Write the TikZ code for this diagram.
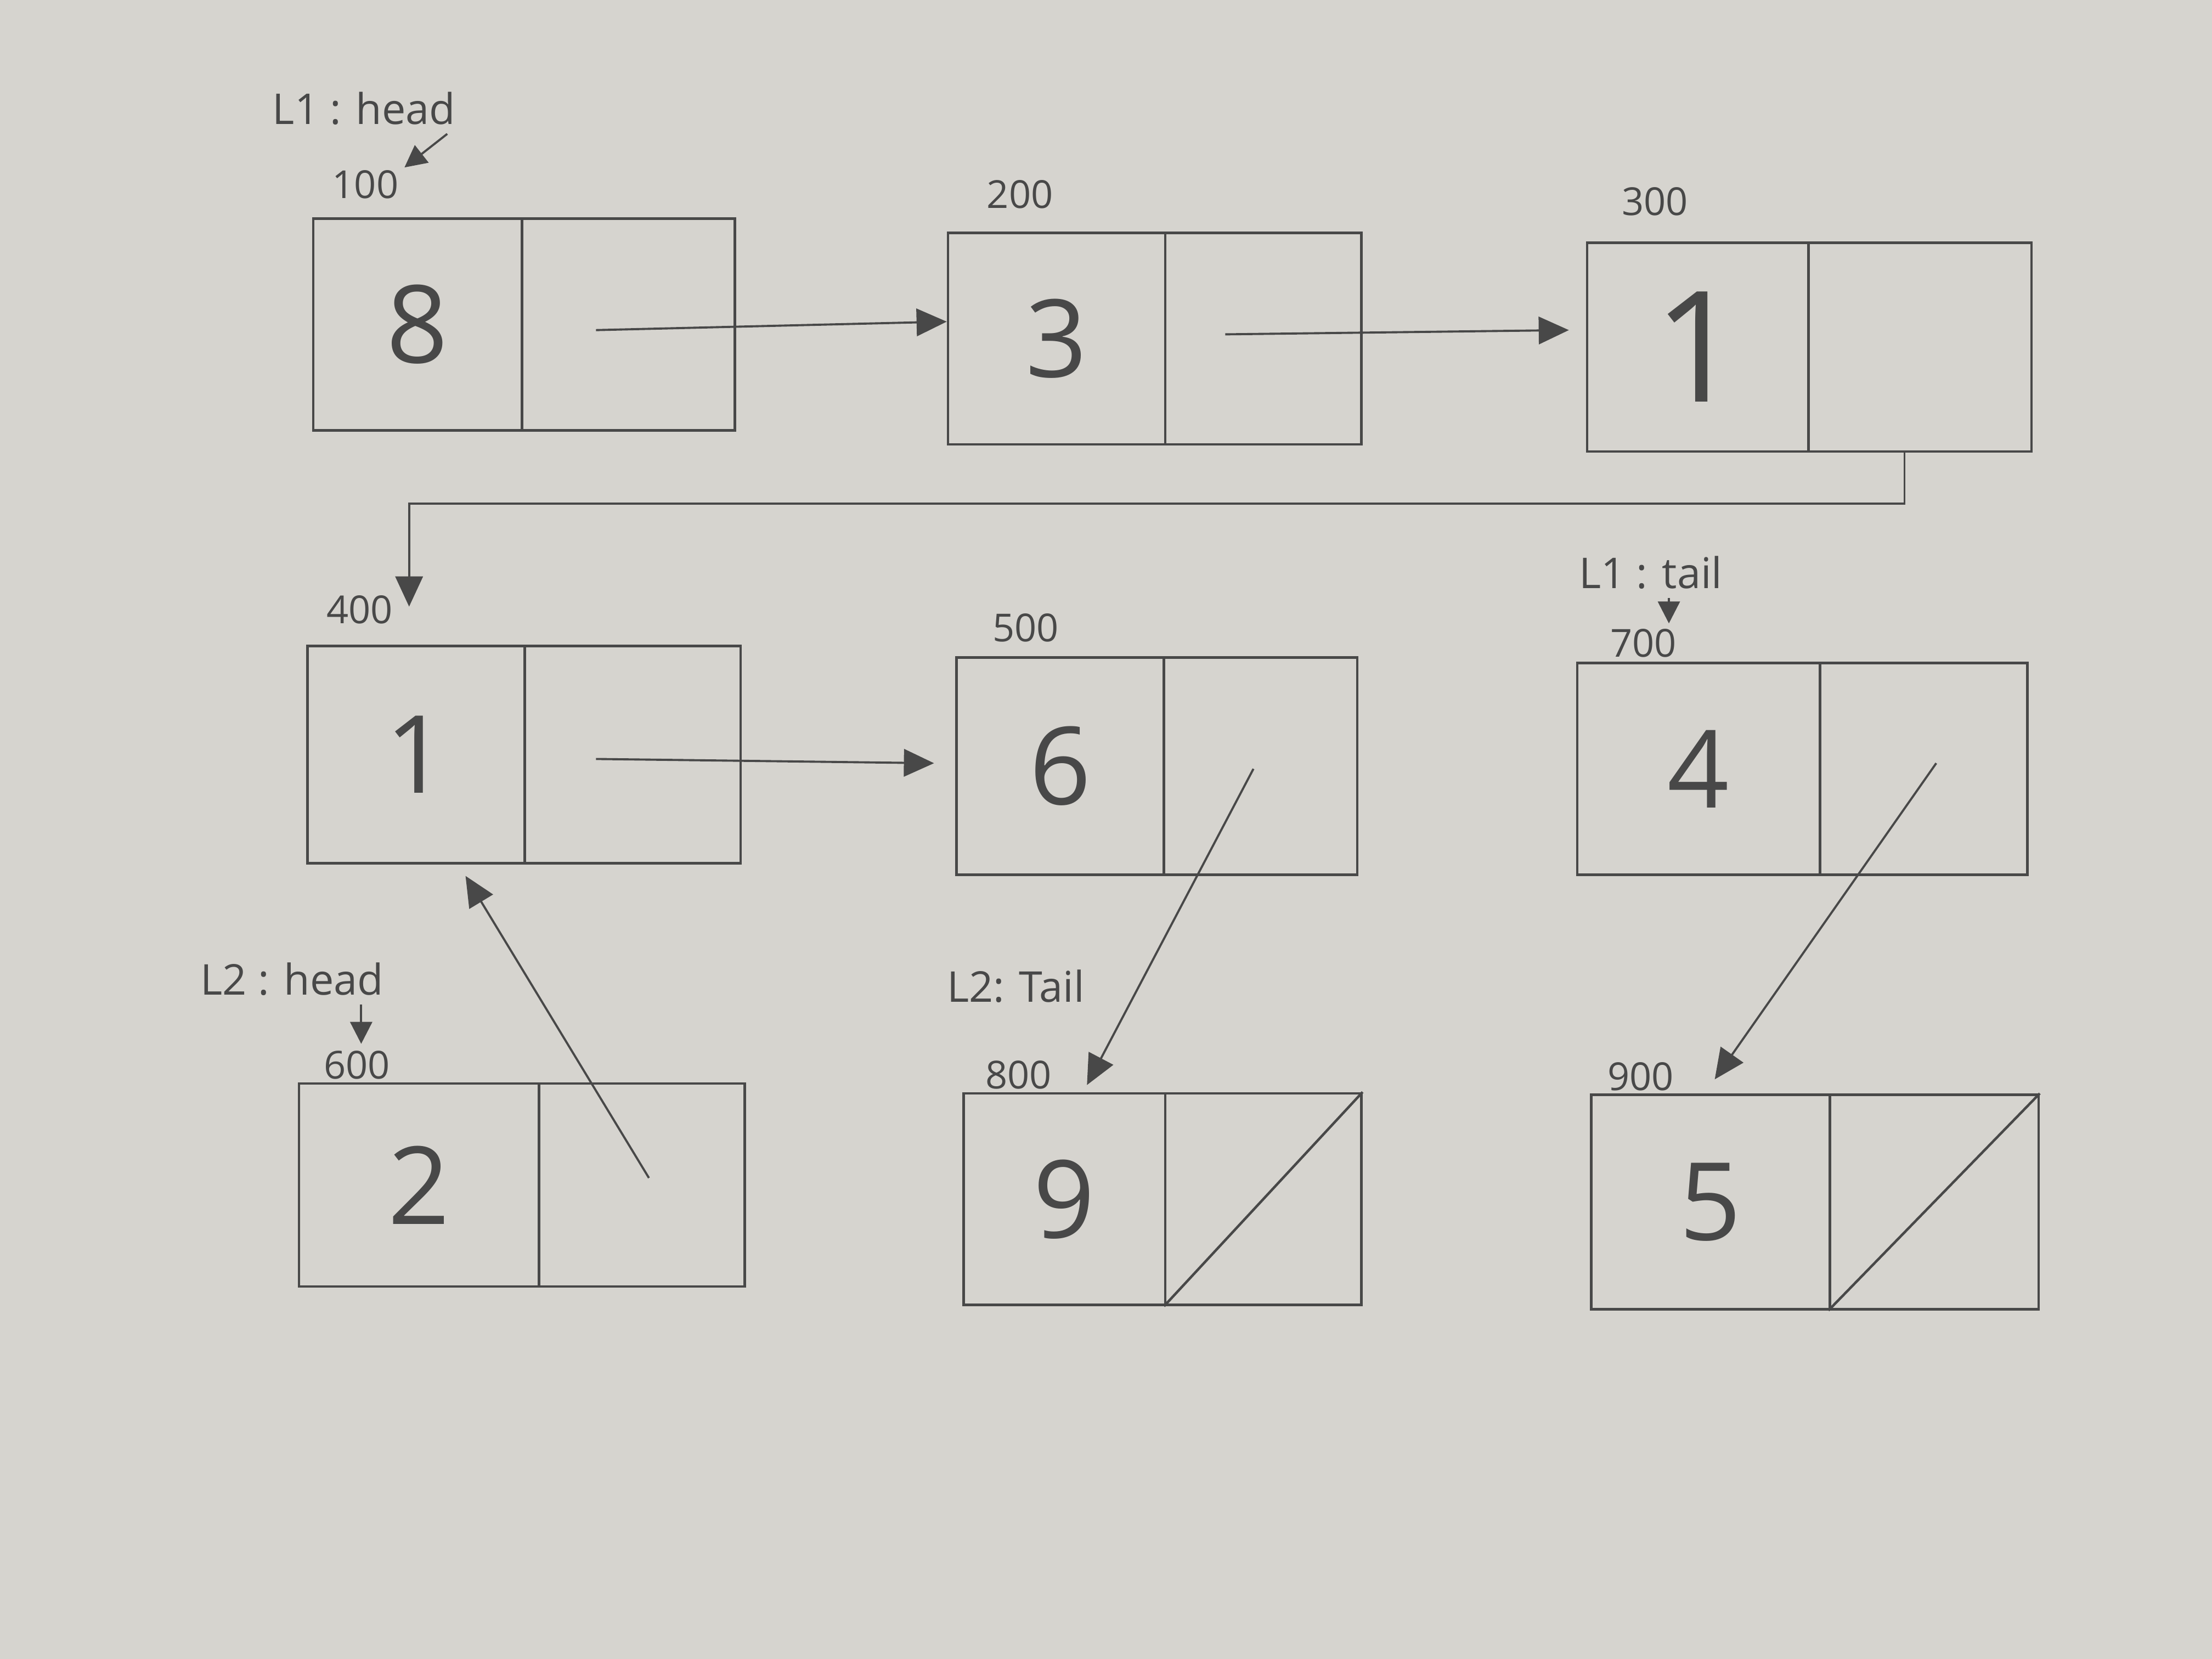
\documentclass[tikz,border=0pt]{standalone}
\usepackage{fontspec}
\setmainfont{Open Sans}
\usetikzlibrary{arrows.meta,calc}
\definecolor{paper}{RGB}{214,212,207}
\definecolor{pencil}{RGB}{72,72,72}
\begin{document}
\begin{tikzpicture}[x=0.025714cm,y=-0.025714cm,
  cell/.style={draw=pencil,line width=1.3pt,inner sep=0pt,text=pencil,font=\fontsize{56}{56}\selectfont},
  ptr/.style={draw=pencil,line width=1.1pt,-{Triangle[length=0.55cm,width=0.5cm]}},
  tag/.style={text=pencil,font=\fontsize{22}{22}\selectfont,inner sep=0pt},
  addr/.style={text=pencil,font=\fontsize{20}{20}\selectfont,inner sep=0pt},
  tagarrow/.style={draw=pencil,line width=1.1pt,-{Triangle[length=0.4cm,width=0.4cm]}},
  slash/.style={draw=pencil,line width=1.3pt}]
\fill[paper] (0,0) rectangle (1568,1176);
\useasboundingbox (0,0) rectangle (1568,1176);

% row 1
\node[cell,minimum width=3.806cm,minimum height=3.857cm] (A1) at (296,230) {8};
\node[cell,minimum width=3.883cm,minimum height=3.857cm] (A2) at (445.5,230) {};
\node[cell,minimum width=3.960cm,minimum height=3.857cm] (B1) at (749,240) {3};
\node[cell,minimum width=3.574cm,minimum height=3.857cm] (B2) at (895.5,240) {};
\node[cell,minimum width=4.037cm,minimum height=3.806cm,font=\fontsize{80}{80}\selectfont] (C1) at (1203.5,246) {1};
\node[cell,minimum width=4.063cm,minimum height=3.806cm] (C2) at (1361,246) {};

% row 2
\node[cell,minimum width=3.960cm,minimum height=3.960cm] (D1) at (295,535) {1};
\node[cell,minimum width=3.934cm,minimum height=3.960cm] (D2) at (448.5,535) {};
\node[cell,minimum width=3.780cm,minimum height=3.960cm] (E1) at (751.5,543) {6};
\node[cell,minimum width=3.523cm,minimum height=3.960cm] (E2) at (893.5,543) {};
\node[cell,minimum width=4.423cm,minimum height=3.857cm] (F1) at (1204,545) {4};
\node[cell,minimum width=3.780cm,minimum height=3.857cm] (F2) at (1363.5,545) {};

% row 3
\node[cell,minimum width=4.371cm,minimum height=3.703cm] (G1) at (297,840) {2};
\node[cell,minimum width=3.754cm,minimum height=3.703cm] (G2) at (455,840) {};
\node[cell,minimum width=3.677cm,minimum height=3.857cm] (H1) at (754.5,850) {9};
\node[cell,minimum width=3.574cm,minimum height=3.857cm] (H2) at (895.5,850) {};
\node[cell,minimum width=4.346cm,minimum height=3.909cm] (I1) at (1212.5,852) {5};
\node[cell,minimum width=3.806cm,minimum height=3.909cm] (I2) at (1371,852) {};

% null slashes
\draw[slash] (H2.south west) -- (H2.north east);
\draw[slash] (I2.south west) -- (I2.north east);

% address labels
\node[addr] (n100) at (259,131) {100};
\node[addr] (n200) at (723,138) {200};
\node[addr] (n300) at (1173,143) {300};
\node[addr] (n400) at (255,432) {400};
\node[addr] (n500) at (727,445) {500};
\node[addr] (n700) at (1165,456) {700};
\node[addr] (n600) at (253,755) {600};
\node[addr] (n800) at (722,762) {800};
\node[addr] (n900) at (1163,763) {900};

% list tags
\node[tag] (l1head) at (258,77) {L1 : head};
\node[tag] (l1tail) at (1170,406) {L1 : tail};
\node[tag] (l2head) at (207,694) {L2 : head};
\node[tag] (l2tail) at (720,699) {L2: Tail};

\draw[tagarrow] ($(l1head.south east)+(-6,6)$) -- ($(n100.north east)+(4,-2)$);
\draw[tagarrow] ($(l2head.south east)+(-16,6)$) -- ($(l2head.south east)+(-16,34)$);
\draw[tagarrow] ($(l1tail.south)+(13,6)$) -- ($(l1tail.south)+(13,24)$);

% next pointers
\draw[ptr] ($(A2.center)+(-23,4)$) -- ($(B1.west)+(0,-12)$);
\draw[ptr] ($(B2.center)+(-27,-3)$) -- ($(C1.west)+(-12,-12)$);
\coordinate (cbend) at (1350,357);
\coordinate (d400) at (290,430);
\draw[ptr] (C2.south -| cbend) -- (cbend) -| (d400);
\draw[ptr] ($(D2.center)+(-26,3)$) -- ($(E1.west)+(-15,-2)$);
\draw[ptr] ($(E2.center)+(-5,2)$) -- ($(H1.north)+(16,-5)$);
\draw[ptr] ($(F2.center)+(9,-4)$) -- ($(I1.north)+(3,-10)$);
\draw[ptr] ($(G2.center)+(5,-5)$) -- ($(D1.south)+(35,8)$);
\end{tikzpicture}
\end{document}
